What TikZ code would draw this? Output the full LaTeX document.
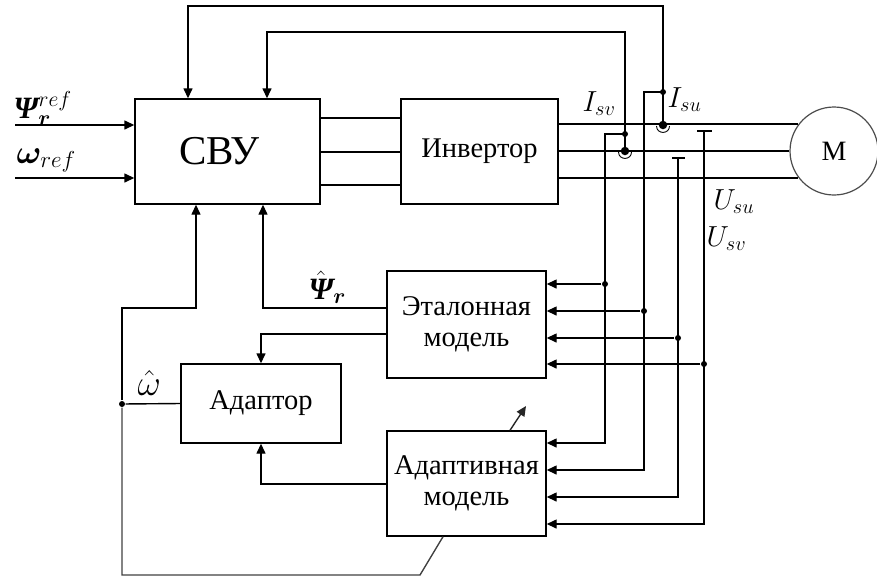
\RequirePackage{fix-cm}
\documentclass[tikz,border=0pt]{standalone}
\usepackage{fontspec}
\setmainfont{Liberation Serif}
\usepackage{bm}
\usetikzlibrary{arrows.meta}
\newcommand{\bigpsi}{\mbox{\bfseries\itshape Ψ}}
\begin{document}
\begin{tikzpicture}[x=1pt,y=-1pt,line width=1.4pt,
  box/.style={draw,rectangle,inner sep=0pt,align=center,font=\fontsize{28.5}{31}\selectfont},
  arr/.style={-{Triangle[length=10pt,width=9pt]}},
  dot/.style={circle,fill,inner sep=0pt,minimum size=6pt},
  bigdot/.style={circle,fill,inner sep=0pt,minimum size=8.5pt},
  lab/.style={anchor=base west,inner sep=0pt,font=\fontsize{29}{31}\selectfont}]
\useasboundingbox (0,0) rectangle (877,579);
% blocks
\node[box,minimum width=185pt,minimum height=105pt,font=\fontsize{41}{44}\selectfont] (svu) at (227.5,151.5) {СВУ\hspace{16pt}};
\node[box,minimum width=157pt,minimum height=105pt] (inv) at (479.5,151.5) {Инвертор};
\node[box,minimum width=159pt,minimum height=107pt] (etal) at (466.5,324.5) {Эталонная\\модель};
\node[box,minimum width=159pt,minimum height=105pt] (adm) at (466.5,483.5) {Адаптивная\\модель};
\node[box,minimum width=160pt,minimum height=79pt] (adp) at (261,403.5) {\raisebox{3pt}{Адаптор}};
\node[draw=black!70,line width=1.2pt,circle,inner sep=0pt,minimum size=88pt,font=\fontsize{28}{30}\selectfont] (M) at (834,151) {M};
% inputs
\coordinate (in1) at (15,125);
\coordinate (in2) at (15,178);
\draw[arr] (in1) -- (svu.west |- in1);
\draw[arr] (in2) -- (svu.west |- in2);
% svu -> inverter
\foreach \yy in {118,152,185}
  \draw (svu.east |- 0,\yy) -- (inv.west |- 0,\yy) ;
% inverter -> motor
\draw (inv.east |- M.143.8) -- (M.143.8);
\draw (inv.east |- M.180) -- (M.180);
\draw (inv.east |- M.217.9) -- (M.217.9);
% current pick-offs
\coordinate (ja) at (663,125);
\coordinate (jb) at (625,151);
\coordinate (ka) at (663,92);
\coordinate (kb) at (625,134);
\node[bigdot] (dja) at (ja) {};
\node[bigdot] (djb) at (jb) {};
\draw[line width=0.9pt] (656.5,126) .. controls (656.5,134.5) and (669.5,134.5) .. (669.5,126);
\draw[line width=0.9pt] (618.5,152) .. controls (618.5,160.5) and (631.5,160.5) .. (631.5,152);
\node[dot] (dka) at (ka) {};
\node[dot] (dkb) at (kb) {};
% feedback loops to SVU
\draw[arr] (ja) -- (663,6) -| (svu.north -| 188,0);
\draw[arr] (jb) -- (625,32) -| (svu.north -| 267,0);
% current branches
\draw[arr] (kb) -| (605,443) -- (adm.east |- 0,443);
\draw[arr] (ka) -| (644,470) -- (adm.east |- 0,470);
\node[dot] (e1) at (605,284) {};
\node[dot] (e2) at (644,311) {};
\draw[arr] (e1) -- (etal.east |- e1);
\draw[arr] (e2) -- (etal.east |- e2);
% voltage taps
\draw (672,158) -- (685,158);
\draw (697,131) -- (712,131);
\draw[arr] (678,158) |- (adm.east |- 0,497);
\draw[arr] (704,131) |- (adm.east |- 0,524);
\node[dot] (e3) at (678,338) {};
\node[dot] (e4) at (704,364) {};
\draw[arr] (e3) -- (etal.east |- e3);
\draw[arr] (e4) -- (etal.east |- e4);
% estimated flux
\draw[arr] (etal.west |- 0,308) -| (svu.south -| 263,0);
% models -> adaptor
\draw[arr] (etal.west |- 0,334) -| (adp.north);
\draw[arr] (adm.west |- 0,484) -| (adp.south);
% speed estimate
\node[dot] (w) at (122,404) {};
\draw (adp.west) -- (w);
\draw[arr] (w) |- (196,308) -- (svu.south -| 196,0);
\draw[black!75] (w) |- (420,575) -- (adm.south -| 443,0);
\draw[arr,black!85] (adm.north -| 510,0) -- (526,406);
% labels
\node[lab,font=\fontsize{31}{33}\selectfont] (lpsi) at (13,118) {$\bigpsi_{\bm r}^{ref}$};
\node[lab,font=\fontsize{33}{35}\selectfont] (lom) at (16,163) {$\bm{\omega}_{ref}$};
\node[lab] (lisv) at (582,111) {$I_{sv}$};
\node[lab] (lisu) at (667,107) {$I_{su}$};
\node[lab] (lusu) at (713,209) {$U_{su}$};
\node[lab] (lusv) at (706,246) {$U_{sv}$};
\node[lab,font=\fontsize{31}{33}\selectfont] (lpsih) at (308,299) {$\hat{\bigpsi}_{\bm r}$};
\node[lab,font=\fontsize{36}{38}\selectfont] (lomh) at (137,395) {$\hat{\omega}$};
\end{tikzpicture}
\end{document}
